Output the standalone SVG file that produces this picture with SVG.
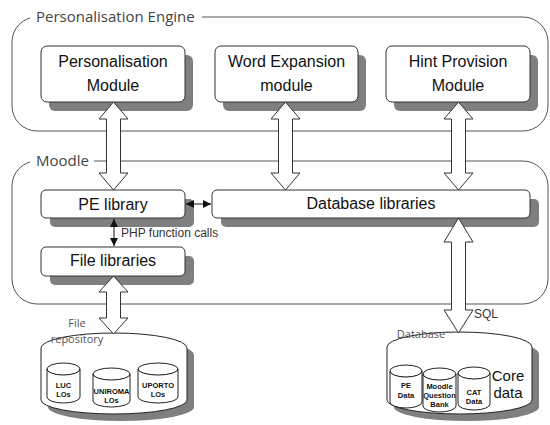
<svg xmlns="http://www.w3.org/2000/svg" width="550" height="425" viewBox="0 0 550 425">
<style>
.cont{fill:none;stroke:#555;stroke-width:1}
.title{font-family:"Open Sans","DejaVu Sans",sans-serif;font-size:15px;fill:#444}
.box{fill:#fff;stroke:#333;stroke-width:1}
.shadow{fill:#7f7f7f}
.lbl{font-family:"Liberation Sans",Arial,sans-serif;font-size:16px;fill:#111;text-anchor:middle}
.small{font-family:"Liberation Sans",Arial,sans-serif;font-size:12px;fill:#333}
.gray{font-family:"Open Sans","DejaVu Sans",sans-serif;font-size:11px;fill:#555;text-anchor:middle}
.tiny{font-family:"Liberation Sans",Arial,sans-serif;font-size:7.5px;font-weight:bold;fill:#111;text-anchor:middle}
.barrow{fill:#fff;stroke:#333;stroke-width:1}
.thin{stroke:#111;stroke-width:1;fill:none}
.cyl{fill:#fff;stroke:#222;stroke-width:1}
</style>
<defs>
<marker id="ah" viewBox="0 0 8 8" refX="8" refY="4" markerWidth="8" markerHeight="8" orient="auto-start-reverse" markerUnits="userSpaceOnUse">
<path d="M0,0 L8,4 L0,8 Z" fill="#111"/>
</marker>
</defs>
<rect width="550" height="425" fill="#fff"/>

<g id="personalisation-engine">
<rect class="cont" x="12" y="17" width="536" height="114" rx="25"/>
<rect x="30" y="8" width="172" height="18" fill="#fff"/>
<text class="title" x="36" y="22">Personalisation Engine</text>
</g>

<g id="moodle">
<rect class="cont" x="12" y="161" width="536" height="143" rx="25"/>
<rect x="30" y="152" width="64" height="18" fill="#fff"/>
<text class="title" x="36" y="166">Moodle</text>
</g>

<g id="personalisation-module">
<rect class="shadow" x="49" y="55" width="144" height="56" rx="6"/>
<rect class="box" x="41" y="46" width="144" height="56" rx="6"/>
<text class="lbl" x="113" y="67">Personalisation</text>
<text class="lbl" x="113" y="91">Module</text>
</g>

<g id="word-expansion-module">
<rect class="shadow" x="223" y="55" width="143" height="56" rx="6"/>
<rect class="box" x="215" y="46" width="143" height="56" rx="6"/>
<text class="lbl" x="286.5" y="67">Word Expansion</text>
<text class="lbl" x="286.5" y="91">module</text>
</g>

<g id="hint-provision-module">
<rect class="shadow" x="394" y="55" width="144" height="56" rx="6"/>
<rect class="box" x="386" y="46" width="144" height="56" rx="6"/>
<text class="lbl" x="458" y="67">Hint Provision</text>
<text class="lbl" x="458" y="91">Module</text>
</g>

<g id="pe-library">
<rect class="shadow" x="50" y="199" width="144" height="28" rx="5"/>
<rect class="box" x="41" y="190" width="144" height="28" rx="5"/>
<text class="lbl" x="113" y="210">PE library</text>
</g>

<g id="database-libraries">
<rect class="shadow" x="221" y="199" width="318" height="28" rx="5"/>
<rect class="box" x="212" y="190" width="318" height="28" rx="5"/>
<text class="lbl" x="371" y="209">Database libraries</text>
</g>

<g id="file-libraries">
<rect class="shadow" x="50" y="256" width="144" height="29" rx="5"/>
<rect class="box" x="41" y="247" width="144" height="29" rx="5"/>
<text class="lbl" x="113" y="266">File libraries</text>
</g>

<g id="file-repository">
<path class="shadow" d="M48,355 A73,15 0 0 1 194,355 V407 A73,14 0 0 1 48,407 Z"/>
<path class="cyl" d="M41,348 A73,15 0 0 1 187,348 V400 A73,14 0 0 1 41,400 Z"/>
<text class="gray" x="77" y="327">File</text>
<text class="gray" x="77" y="343">repository</text>
<g id="luc-los">
<path class="cyl" d="M47,369 A16.5,6 0 0 1 80,369 V397 A16.5,6 0 0 1 47,397 Z"/>
<path class="thin" d="M47,369 A16.5,6 0 0 0 80,369"/>
<text class="tiny" x="63.5" y="388">LUC</text>
<text class="tiny" x="63.5" y="397">LOs</text>
</g>
<g id="uniroma-los">
<path class="cyl" d="M93,374 A18.5,6 0 0 1 130,374 V401 A18.5,6 0 0 1 93,401 Z"/>
<path class="thin" d="M93,374 A18.5,6 0 0 0 130,374"/>
<text class="tiny" x="111.5" y="394">UNIROMA</text>
<text class="tiny" x="111.5" y="403">LOs</text>
</g>
<g id="uporto-los">
<path class="cyl" d="M138,369 A20,6 0 0 1 178,369 V397 A20,6 0 0 1 138,397 Z"/>
<path class="thin" d="M138,369 A20,6 0 0 0 178,369"/>
<text class="tiny" x="158" y="388">UPORTO</text>
<text class="tiny" x="158" y="397">LOs</text>
</g>
</g>

<g id="database">
<path class="shadow" d="M394,354 A72.5,15 0 0 1 539,354 V407 A72.5,14 0 0 1 394,407 Z"/>
<path class="cyl" d="M387,347 A72.5,15 0 0 1 532,347 V400 A72.5,14 0 0 1 387,400 Z"/>
<text class="gray" x="421" y="338">Database</text>
<text class="lbl" x="508" y="381" style="font-size:15px">Core</text>
<text class="lbl" x="508" y="398" style="font-size:15px">data</text>
<g id="pe-data">
<path class="cyl" d="M390,371 A16,6 0 0 1 422,371 V402 A16,6 0 0 1 390,402 Z"/>
<path class="thin" d="M390,371 A16,6 0 0 0 422,371"/>
<text class="tiny" x="406" y="388">PE</text>
<text class="tiny" x="406" y="398">Data</text>
</g>
<g id="moodle-question-bank">
<path class="cyl" d="M423,374 A16.5,6 0 0 1 456,374 V406 A16.5,6 0 0 1 423,406 Z"/>
<path class="thin" d="M423,374 A16.5,6 0 0 0 456,374"/>
<text class="tiny" x="439.5" y="389">Moodle</text>
<text class="tiny" x="439.5" y="398">Question</text>
<text class="tiny" x="439.5" y="407">Bank</text>
</g>
<g id="cat-data">
<path class="cyl" d="M458,373 A16,6 0 0 1 490,373 V404 A16,6 0 0 1 458,404 Z"/>
<path class="thin" d="M458,373 A16,6 0 0 0 490,373"/>
<text class="tiny" x="474" y="395">CAT</text>
<text class="tiny" x="474" y="404">Data</text>
</g>
</g>

<g id="connectors">
<polygon class="barrow" points="113.5,102 128,119 120.5,119 120.5,173 128,173 113.5,190 99,173 106.5,173 106.5,119 99,119"/>
<polygon class="barrow" points="285.5,102 300,119 292.5,119 292.5,173 300,173 285.5,190 271,173 278.5,173 278.5,119 271,119"/>
<polygon class="barrow" points="458.5,102 473,119 465.5,119 465.5,173 473,173 458.5,190 444,173 451.5,173 451.5,119 444,119"/>
<polygon class="barrow" points="113.5,276 128,292 120.5,292 120.5,318 128,318 113.5,334 99,318 106.5,318 106.5,292 99,292"/>
<polygon class="barrow" points="458.5,218 473,242 465.5,242 465.5,310 473,310 458.5,333 444,310 451.5,310 451.5,242 444,242"/>
<line class="thin" x1="186" y1="204" x2="211" y2="204" marker-start="url(#ah)" marker-end="url(#ah)"/>
<line class="thin" x1="114" y1="219" x2="114" y2="246" marker-start="url(#ah)" marker-end="url(#ah)"/>
<text class="small" x="121" y="237">PHP function calls</text>
<text class="small" x="474" y="318">SQL</text>
</g>
</svg>
